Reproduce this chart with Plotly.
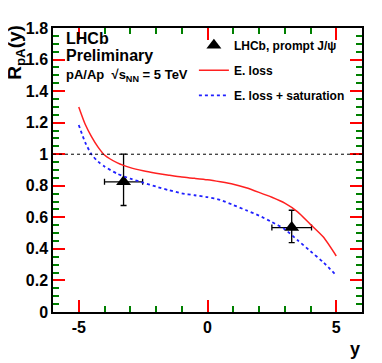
import plotly.graph_objects as go

# E. loss curve
eloss_x = [-5, -4.75, -4.5, -4.25, -4, -3.5, -3, -2.5, -2, -1.5, -1, -0.5, 0,
           0.5, 1, 1.5, 2, 2.5, 3, 3.5, 4, 4.5, 5]
eloss_y = [1.30, 1.19, 1.11, 1.045, 0.995, 0.945, 0.915, 0.895, 0.88, 0.867, 0.855,
           0.847, 0.838, 0.825, 0.81, 0.787, 0.758, 0.727, 0.69, 0.635, 0.555, 0.475, 0.355]

# E. loss + saturation curve
esat_x = eloss_x
esat_y = [1.185, 1.075, 0.998, 0.953, 0.922, 0.876, 0.845, 0.82, 0.795, 0.772, 0.752,
          0.74, 0.728, 0.71, 0.678, 0.645, 0.611, 0.57, 0.525, 0.455, 0.385, 0.315, 0.232]

# LHCb prompt J/psi points
lhcb_x = [-3.26, 3.27]
lhcb_y = [0.825, 0.535]
lhcb_ex = [0.74, 0.77]
lhcb_ey_up = [0.175, 0.11]
lhcb_ey_dn = [0.15, 0.095]

# tick labels
x_ticks = [-5, 0, 5]
x_labels = ["-5", "0", "5"]
y_ticks = [0, 0.2, 0.4, 0.6, 0.8, 1.0, 1.2, 1.4, 1.6, 1.8]
y_labels = ["0", "0.2", "0.4", "0.6", "0.8", "1", "1.2", "1.4", "1.6", "1.8"]

font = dict(family="Liberation Sans, Arial, sans-serif", color="black", weight="bold")

fig = go.Figure()
fig.add_trace(go.Scatter(
    x=lhcb_x, y=lhcb_y, mode="markers", name="LHCb, prompt J/\u03c8",
    legendgroup="a",
    marker=dict(symbol="triangle-up", size=13, color="black"),
    error_x=dict(type="data", array=lhcb_ex, color="black", thickness=1.3, width=3),
    error_y=dict(type="data", array=lhcb_ey_up, arrayminus=lhcb_ey_dn,
                 color="black", thickness=1.3, width=3),
))
fig.add_trace(go.Scatter(
    x=eloss_x, y=eloss_y, mode="lines", name="E. loss", legendgroup="b",
    line=dict(color="#ff2020", width=1.5, shape="spline", smoothing=0.6),
))
fig.add_trace(go.Scatter(
    x=esat_x, y=esat_y, mode="lines", name="E. loss + saturation", legendgroup="c",
    line=dict(color="#2020ff", width=1.8, dash="dot", shape="spline", smoothing=0.6),
))

fig.add_shape(type="line", xref="x", yref="y", x0=-6, x1=6, y0=1, y1=1,
              line=dict(color="black", width=1, dash="dot"))

tickfont = dict(family="Liberation Sans, Arial, sans-serif", color="black", size=16)
fig.update_xaxes(range=[-6, 6], dtick=5, tickvals=x_ticks,
                 ticktext=["<b>%s</b>" % t for t in x_labels],
                 showline=True, linecolor="black", linewidth=1.5,
                 mirror="allticks", ticks="inside", ticklen=12,
                 tickcolor="red", tickwidth=2, tickfont=tickfont,
                 minor=dict(dtick=1, ticks="inside", ticklen=6, tickcolor="green"))
fig.update_yaxes(range=[0, 1.8], tickvals=y_ticks,
                 ticktext=["<b>%s</b>" % t for t in y_labels],
                 showline=True, linecolor="black", linewidth=1.5,
                 mirror="allticks", ticks="inside", ticklen=12,
                 tickcolor="red", tickwidth=2, tickfont=tickfont,
                 minor=dict(dtick=0.05, ticks="inside", ticklen=6, tickcolor="green"))

fig.add_annotation(text="R<sub>pA</sub>(y)", xref="paper", yref="paper",
                   x=-0.12, y=1.02, xanchor="center", yanchor="top", textangle=-90,
                   showarrow=False, font=dict(size=19, **font))
fig.add_annotation(text="y", xref="paper", yref="paper", x=1.0, y=-0.129,
                   xanchor="right", yanchor="middle", showarrow=False,
                   font=dict(size=18, **font))
fig.add_annotation(text="LHCb", xref="paper", yref="paper",
                   x=0.035, y=1.0, xanchor="left", yanchor="top", align="left",
                   showarrow=False, font=dict(size=16, **font))
fig.add_annotation(text="Preliminary", xref="paper", yref="paper",
                   x=0.035, y=0.94, xanchor="left", yanchor="top", align="left",
                   showarrow=False, font=dict(size=16, **font))
fig.add_annotation(text="pA/Ap  \u221as<sub>NN</sub> = 5 TeV", xref="paper", yref="paper",
                   x=0.035, y=0.87, xanchor="left", yanchor="top", align="left",
                   showarrow=False, font=dict(size=13, **font))

# page body adds an 8px margin, so the figure is drawn 8px smaller
fig.update_layout(
    width=374, height=355,
    margin=dict(l=45, r=20, t=17, b=51),
    plot_bgcolor="white", paper_bgcolor="white",
    legend=dict(x=0.456, y=0.99, xanchor="left", yanchor="top",
                bgcolor="rgba(0,0,0,0)", font=dict(size=12, **font),
                tracegroupgap=6, itemwidth=30),
)

fig.write_html("out.html")
